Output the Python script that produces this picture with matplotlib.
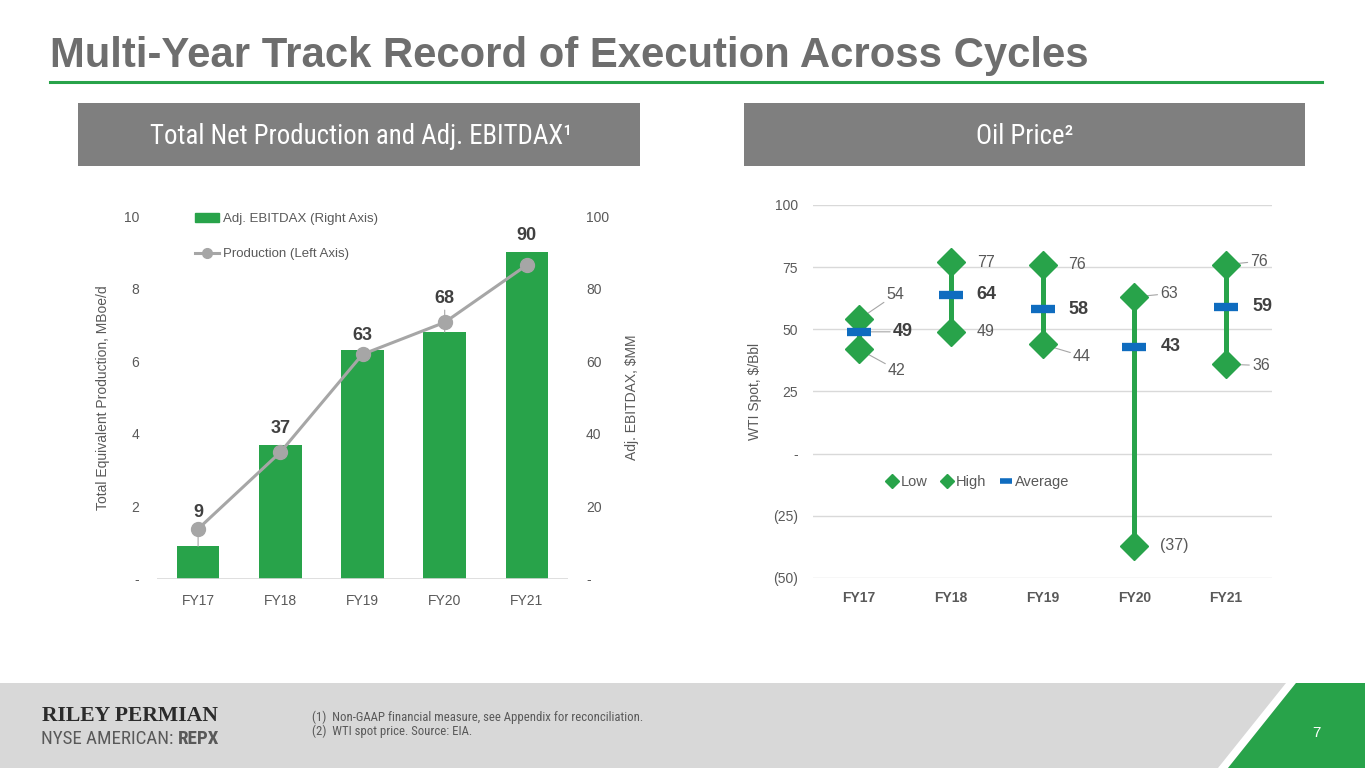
import matplotlib
matplotlib.use('Agg')
import matplotlib.pyplot as plt
import matplotlib.patches as mpatches
from matplotlib.lines import Line2D
from matplotlib import font_manager
from matplotlib.font_manager import FontProperties
from matplotlib.ticker import FuncFormatter

# ---- data ----
years = ['FY17', 'FY18', 'FY19', 'FY20', 'FY21']
ebitdax = [9, 37, 63, 68, 90]                  # Adj. EBITDAX, $MM (right axis)
production = [1.38, 3.49, 6.19, 7.07, 8.65]    # MBoe/d (left axis)
oil_low = [42, 49, 44, -37, 36]
oil_high = [54, 77, 76, 63, 76]
oil_avg = [49, 64, 58, 43, 59]

# label offsets in points (dx, dy)
bar_lbl_dy = [24, 11.5, 11, 24, 12]
high_off = [(20, 18), (18.7, 0), (18.7, 0), (18.7, 2.5), (17.5, 2.5)]
low_off = [(21, -15), (18.7, 0), (22, -8.5), (18.7, 0), (18.7, -1)]
avg_off = [(24.5, 0), (18.7, 0), (18.7, 0), (18.7, 0), (18.7, 0)]

GREEN = '#28a34a'
BLUE = '#0f6cbf'
LGRAY = '#a6a6a6'
TXT = '#595959'
DARK = '#404040'
GRID = '#d9d9d9'

plt.rcParams['font.family'] = ['Liberation Sans', 'DejaVu Sans']


def narrow_font(bold):
    # look for an installed condensed face, else plain Liberation Sans
    pref = ['Liberation Sans Narrow', 'Roboto Condensed', 'Noto Sans', 'Open Sans', 'Roboto', 'DejaVu Sans']
    best = None
    for f in font_manager.fontManager.ttflist:
        fn = f.fname.split('/')[-1]
        cond = f.stretch == 'condensed' or 'Narrow' in f.name or 'Condensed' in f.name
        if not cond or f.style != 'normal' or f.name not in pref:
            continue
        w = f.weight if isinstance(f.weight, int) else font_manager.weight_dict.get(f.weight, 400)
        if w != (700 if bold else 400):
            continue
        rank = pref.index(f.name) * 10 + ('Extra' in fn) * 3 + ('Semi' in fn) * 1
        if best is None or rank < best[0]:
            best = (rank, f.fname)
    if best:
        return FontProperties(fname=best[1])
    return FontProperties(family='Liberation Sans', weight='bold' if bold else 'normal')


NB = narrow_font(True)
NR = narrow_font(False)

W, H = 1365, 768
fig = plt.figure(figsize=(W / 100, H / 100), dpi=100)
r = fig.canvas.get_renderer()


def fx(px):
    return px / W


def fy(py):
    return 1 - py / H


def fit_width(t, width_px):
    bb = t.get_window_extent(renderer=r)
    t.set_fontsize(t.get_fontsize() * width_px / bb.width)


# ---- slide decorations ----
title = fig.text(fx(50), fy(67), 'Multi-Year Track Record of Execution Across Cycles',
                 family='Liberation Sans', weight='bold', color='#6e6e6e', fontsize=32,
                 va='baseline')
fit_width(title, 1041)
fig.add_artist(Line2D([fx(50), fx(1322)], [fy(82), fy(82)], color=GREEN, lw=2.2))

for x0, x1 in [(78, 640), (744, 1305)]:
    fig.add_artist(mpatches.Rectangle((fx(x0), fy(166)), (x1 - x0) / W, 63 / H,
                                      transform=fig.transFigure, color='#7f7f7f', lw=0))
h1 = fig.text(fx(361), fy(137), 'Total Net Production and Adj. EBITDAX\u00b9', fontproperties=NR,
              color='white', fontsize=15, ha='center', va='center')
fit_width(h1, 422)
fig.text(fx(1024.5), fy(137), 'Oil Price\u00b2', fontproperties=NR, color='white',
         fontsize=h1.get_fontsize(), ha='center', va='center')

# footer
fig.add_artist(mpatches.Rectangle((0, 0), 1, 85 / H, transform=fig.transFigure,
                                  color='#d8d8d8', lw=0))
fig.add_artist(mpatches.Polygon([(fx(1286), fy(683)), (fx(1296), fy(683)), (fx(1228), fy(768)),
                                 (fx(1218), fy(768))], closed=True, transform=fig.transFigure,
                                color='white', lw=0))
fig.add_artist(mpatches.Polygon([(fx(1296), fy(683)), (1, fy(683)), (1, 0), (fx(1228), 0)],
                                closed=True, transform=fig.transFigure, color=GREEN, lw=0))
fig.text(fx(1316), fy(733), '7', color='white', fontsize=11, ha='center', va='center')

logo = fig.text(fx(42), fy(716), 'RILEY PERMIAN', family='Liberation Serif', weight='bold',
                color='#2b2b2b', fontsize=16, va='center')
fit_width(logo, 177)
nyse = fig.text(fx(41), fy(739), 'NYSE AMERICAN: ', fontproperties=NR, color=TXT,
                fontsize=12, va='center')
repx = fig.text(fx(200), fy(739), 'REPX', fontproperties=NB, color=TXT,
                fontsize=12, va='center')
b1 = nyse.get_window_extent(renderer=r)
b2 = repx.get_window_extent(renderer=r)
k = 178 / (b1.width + b2.width)
nyse.set_fontsize(12 * k)
repx.set_fontsize(12 * k)
repx.set_x((41 + b1.width * k) / W)

f1 = fig.text(fx(312), fy(717), '(1)  Non-GAAP financial measure, see Appendix for reconciliation.',
              fontproperties=NR, color=TXT, fontsize=7, va='center')
fit_width(f1, 335)
fig.text(fx(312), fy(731), '(2)  WTI spot price. Source: EIA.',
         fontproperties=NR, color=TXT, fontsize=f1.get_fontsize(), va='center')

# ---- left chart: production + EBITDAX ----
ax = fig.add_axes([fx(157), fy(579), (568 - 157) / W, (579 - 216) / H])
ax2 = ax.twinx()
ax.set_zorder(ax2.get_zorder() + 1)
ax.patch.set_visible(False)

x = range(len(years))
ax2.bar(x, ebitdax, width=0.52, color=GREEN)
ax.plot(x, production, color=LGRAY, lw=2.2, marker='o', ms=10)

ax.set_ylim(0, 10)
ax2.set_ylim(0, 100)
ax.set_xlim(-0.5, 4.5)
ax.set_yticks(range(0, 11, 2))
ax2.set_yticks(range(0, 101, 20))
dash0 = FuncFormatter(lambda v, p: '-' if v == 0 else '%g' % v)
ax.yaxis.set_major_formatter(dash0)
ax2.yaxis.set_major_formatter(dash0)
ax.set_xticks(list(x))
ax.set_xticklabels(years)
for a in (ax, ax2):
    for s in a.spines.values():
        s.set_visible(False)
    a.tick_params(length=0, labelsize=10, labelcolor=TXT)
ax.tick_params(axis='y', pad=13)
ax2.tick_params(axis='y', pad=13)
ax.tick_params(axis='x', pad=11)
ax.axhline(0, color=GRID, lw=1.2, zorder=0)

ax.set_ylabel('Total Equivalent Production, MBoe/d', fontsize=10, color=TXT)
ax.yaxis.set_label_coords(-0.115, 0.5)
ax2.set_ylabel('Adj. EBITDAX, $MM', fontsize=10, color=TXT)
ax2.yaxis.set_label_coords(1.139, 0.5)

for i, v in enumerate(ebitdax):
    lead = dict(arrowstyle='-', color=LGRAY, lw=0.8, shrinkA=0, shrinkB=0) if bar_lbl_dy[i] > 20 else None
    ax.annotate(str(v), xy=(i, v), xycoords=ax2.transData, xytext=(0, bar_lbl_dy[i]),
                textcoords='offset points', ha='center', va='center', fontsize=13,
                weight='bold', color=DARK, arrowprops=lead, zorder=5)

hand = [mpatches.Patch(color=GREEN, label='Adj. EBITDAX (Right Axis)'),
        Line2D([], [], color=LGRAY, lw=2.2, marker='o', ms=7, label='Production (Left Axis)')]
ax.legend(handles=hand, loc='upper left', bbox_to_anchor=(0.08, 1.024), frameon=False,
          fontsize=9.5, labelcolor=TXT, handlelength=1.8, handletextpad=0.3,
          labelspacing=1.75, borderaxespad=0)

# ---- right chart: oil price ----
bx = fig.add_axes([fx(813), fy(578), (1272 - 813) / W, (578 - 205) / H])
bx.vlines(x, oil_low, oil_high, color=GREEN, lw=3.6, zorder=3)
bx.plot(x, oil_low, 'D', color=GREEN, ms=14, zorder=4)
bx.plot(x, oil_high, 'D', color=GREEN, ms=14, zorder=4)
bx.plot(x, oil_avg, '_', color=BLUE, ms=17, mew=6, zorder=5)

bx.set_ylim(-50, 100)
bx.set_xlim(-0.5, 4.5)
bx.set_yticks(range(-50, 101, 25))
bx.yaxis.set_major_formatter(FuncFormatter(
    lambda v, p: '-' if v == 0 else ('(%g)' % -v if v < 0 else '%g' % v)))
bx.set_xticks(list(x))
bx.set_xticklabels(years, weight='bold')
for s in bx.spines.values():
    s.set_visible(False)
bx.tick_params(length=0, labelsize=10, labelcolor=TXT)
bx.tick_params(axis='y', pad=11)
bx.tick_params(axis='x', pad=9)
bx.grid(axis='y', color=GRID, lw=1)
bx.set_axisbelow(True)
bx.set_ylabel('WTI Spot, $/Bbl', fontsize=10, color=TXT)
bx.yaxis.set_label_coords(-0.111, 0.5)


def fmt(v):
    return '(%d)' % -v if v < 0 else '%d' % v


def put(vals, offs, default, **kw):
    for i, v in enumerate(vals):
        lead = None
        if offs[i] != default:
            lead = dict(arrowstyle='-', color=LGRAY, lw=0.8, shrinkA=0, shrinkB=0)
        bx.annotate(fmt(v), xy=(i, v), xytext=offs[i], textcoords='offset points',
                    ha='left', va='center', arrowprops=lead, zorder=2, **kw)


put(oil_high, high_off, (18.7, 0), fontsize=11.5, color=TXT)
put(oil_low, low_off, (18.7, 0), fontsize=11.5, color=TXT)
put(oil_avg, avg_off, (18.7, 0), fontsize=13, color=DARK, weight='bold')

leg = [Line2D([], [], marker='D', ls='none', color=GREEN, ms=7, label='Low'),
       Line2D([], [], marker='D', ls='none', color=GREEN, ms=7, label='High'),
       Line2D([], [], marker='_', ls='none', color=BLUE, ms=9, mew=4, label='Average')]
bx.legend(handles=leg, loc='center', bbox_to_anchor=(0.358, 0.257), ncol=3, frameon=False,
          fontsize=10.5, labelcolor=TXT, handlelength=0.9, handletextpad=0.15,
          columnspacing=0.9)

fig.savefig('out.png', dpi=100)
